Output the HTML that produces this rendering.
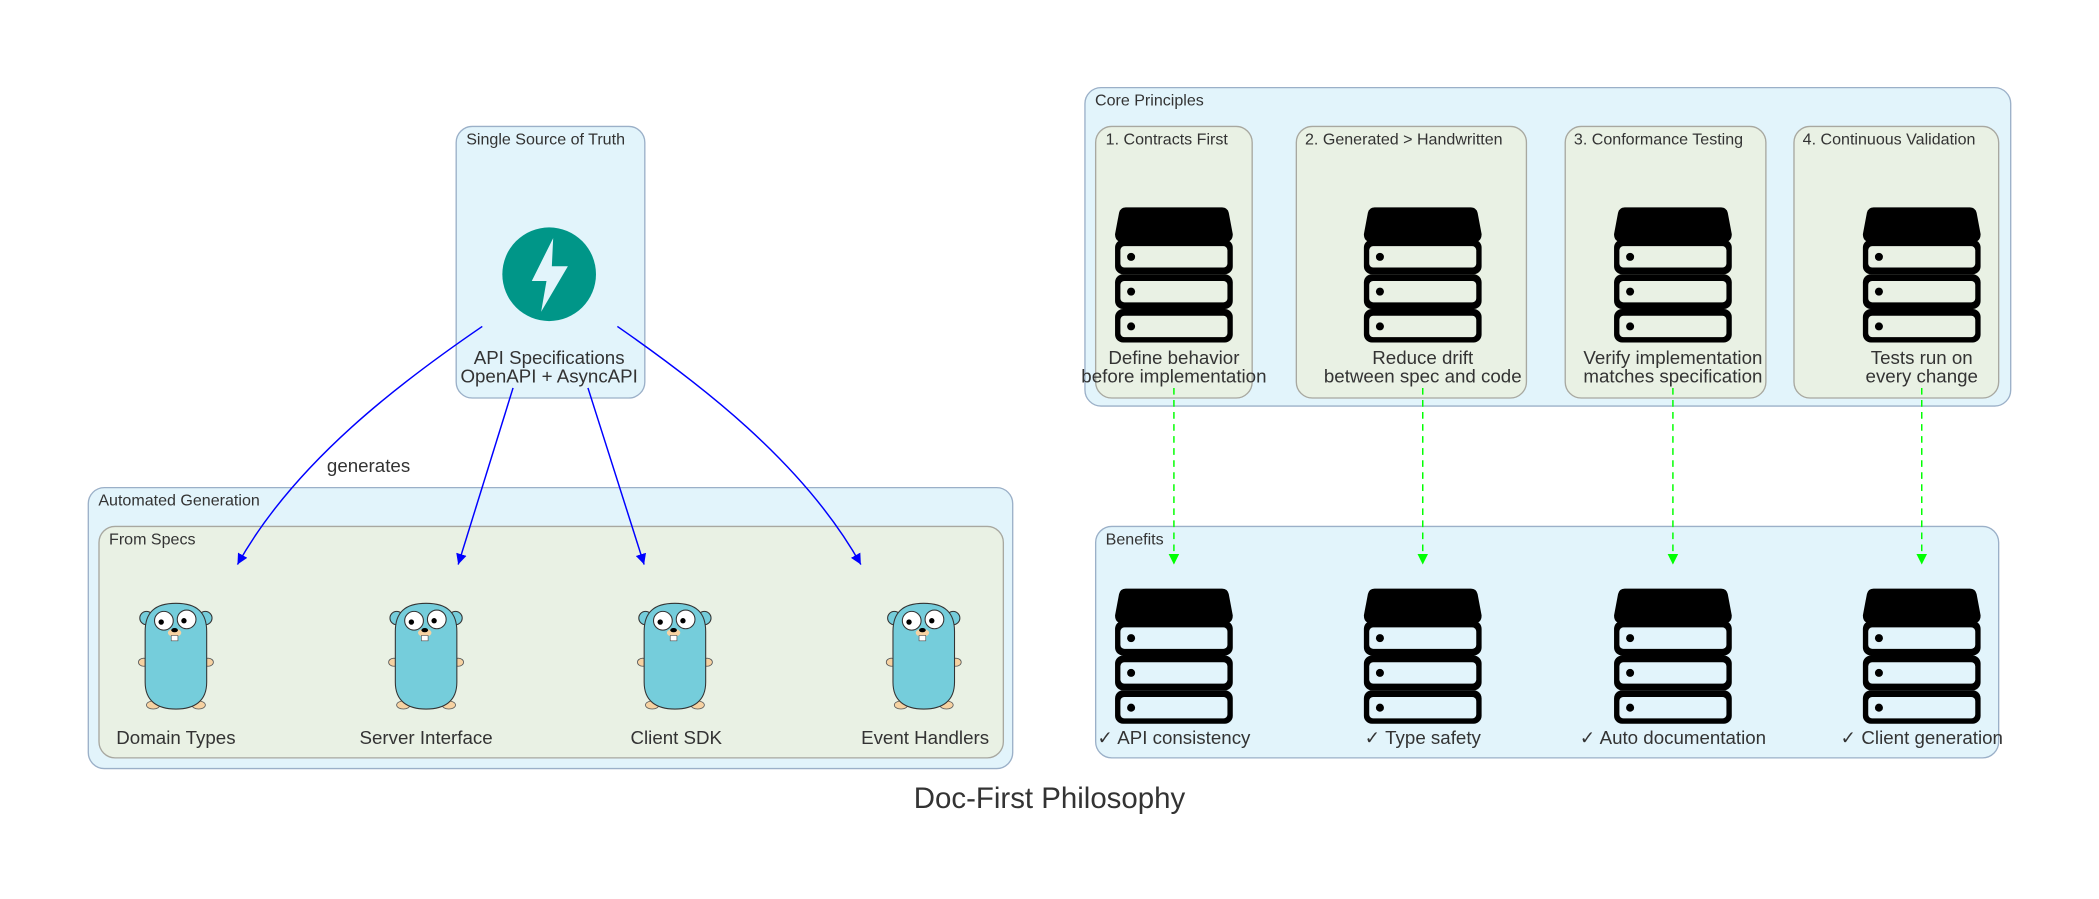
<!DOCTYPE html>
<html><head><meta charset="utf-8"><style>
html,body{margin:0;padding:0;background:#fff}
svg{display:block}
text{font-family:"Liberation Sans",sans-serif;fill:#333}
</style></head><body>
<svg width="2099" height="899" viewBox="0 0 1568 672" xmlns="http://www.w3.org/2000/svg">
<defs>
<symbol id="srv" viewBox="0 0 88 100" overflow="visible">
<path d="M8 0 H80 Q84 0 85 4 L88 20 Q88 26 82 26 H6 Q0 26 0 20 L3 4 Q4 0 8 0Z" fill="#000"/>
<rect x="0" y="24" width="88" height="26" rx="6" fill="#000"/>
<rect x="0" y="50" width="88" height="26" rx="6" fill="#000"/>
<rect x="0" y="76" width="88" height="25" rx="6" fill="#000"/>
<rect x="4" y="29" width="80" height="16" rx="3" style="fill:var(--bg)"/>
<rect x="4" y="55" width="80" height="16" rx="3" style="fill:var(--bg)"/>
<rect x="4" y="81" width="80" height="16" rx="3" style="fill:var(--bg)"/>
<circle cx="12" cy="37" r="3" fill="#000"/><circle cx="12" cy="63" r="3" fill="#000"/><circle cx="12" cy="89" r="3" fill="#000"/>
</symbol>
<symbol id="gopher" viewBox="0 0 60 82" overflow="visible">
<ellipse cx="6" cy="45" rx="4" ry="3" fill="#f6d2a2" stroke="#555" stroke-width="0.6"/>
<ellipse cx="54" cy="45" rx="4" ry="3" fill="#f6d2a2" stroke="#555" stroke-width="0.6"/>
<ellipse cx="13" cy="77" rx="5" ry="3" fill="#f6d2a2" stroke="#555" stroke-width="0.6"/>
<ellipse cx="47" cy="77" rx="5" ry="3" fill="#f6d2a2" stroke="#555" stroke-width="0.6"/>
<circle cx="8" cy="12" r="5" fill="#75cddb" stroke="#333" stroke-width="0.8"/>
<circle cx="52" cy="12" r="5" fill="#75cddb" stroke="#333" stroke-width="0.8"/>
<path d="M30 1 C46 1 53 8 53 22 L53 60 C53 74 44 80 30 80 C16 80 7 74 7 60 L7 22 C7 8 14 1 30 1Z" fill="#75cddb" stroke="#333" stroke-width="0.8"/>
<circle cx="21" cy="14" r="7" fill="#fff" stroke="#333" stroke-width="0.8"/>
<circle cx="38" cy="13" r="7" fill="#fff" stroke="#333" stroke-width="0.8"/>
<circle cx="19" cy="15" r="2" fill="#000"/><circle cx="36" cy="14" r="2" fill="#000"/>
<ellipse cx="29" cy="23" rx="5" ry="3" fill="#f6d2a2"/>
<ellipse cx="29" cy="21" rx="2.5" ry="1.6" fill="#000"/>
<rect x="26.5" y="25" width="5" height="4" fill="#fff" stroke="#555" stroke-width="0.5"/>
</symbol>
<marker id="ab" viewBox="0 0 10 10" refX="10" refY="5" markerWidth="8" markerHeight="8" orient="auto" markerUnits="userSpaceOnUse"><path d="M0 0 L10 5 L0 10Z" fill="#00f"/></marker>
<marker id="ag" viewBox="0 0 10 10" refX="10" refY="5" markerWidth="8" markerHeight="8" orient="auto" markerUnits="userSpaceOnUse"><path d="M0 0 L10 5 L0 10Z" fill="#0f0"/></marker>
</defs>

<!-- Single source -->
<rect x="340.5" y="94.5" width="141" height="203" rx="12" fill="#e2f4fb" stroke="#9bb0c8"/>
<text x="348" y="108" font-size="12">Single Source of Truth</text>
<circle cx="410" cy="205" r="35" fill="#009688"/>
<path d="M413 178 L397 210 L408 210 L404 233 L424 199 L412 199 Z" fill="#e2f4fb"/>
<text x="410" y="272" font-size="14" text-anchor="middle">API Specifications</text>
<text x="410" y="286" font-size="14" text-anchor="middle">OpenAPI + AsyncAPI</text>

<!-- Automated generation -->
<rect x="65.5" y="364.5" width="691" height="210" rx="12" fill="#e2f4fb" stroke="#9bb0c8"/>
<text x="73" y="378" font-size="12">Automated Generation</text>
<rect x="73.5" y="393.5" width="676" height="173" rx="12" fill="#e9f1e4" stroke="#a8a8a0"/>
<text x="81" y="407" font-size="12">From Specs</text>
<use href="#gopher" x="101" y="450" width="60" height="82"/>
<use href="#gopher" x="288" y="450" width="60" height="82"/>
<use href="#gopher" x="474" y="450" width="60" height="82"/>
<use href="#gopher" x="660" y="450" width="60" height="82"/>
<text x="131" y="556" font-size="14" text-anchor="middle">Domain Types</text>
<text x="318" y="556" font-size="14" text-anchor="middle">Server Interface</text>
<text x="505" y="556" font-size="14" text-anchor="middle">Client SDK</text>
<text x="691" y="556" font-size="14" text-anchor="middle">Event Handlers</text>

<!-- blue arrows -->
<g fill="none" stroke="#00f" stroke-width="1.1">
<path d="M360 244 C300 285 220 345 177 422" marker-end="url(#ab)"/>
<path d="M383 290 L342 422" marker-end="url(#ab)"/>
<path d="M439 290 L481 422" marker-end="url(#ab)"/>
<path d="M461 244 C520 285 600 345 643 422" marker-end="url(#ab)"/>
</g>
<text x="275" y="353" font-size="14" text-anchor="middle">generates</text>

<!-- Core principles -->
<rect x="810.5" y="65.5" width="692" height="238" rx="12" fill="#e2f4fb" stroke="#9bb0c8"/>
<text x="818" y="79" font-size="12">Core Principles</text>
<g fill="#e9f1e4" stroke="#a8a8a0">
<rect x="818.5" y="94.5" width="117" height="203" rx="12"/>
<rect x="968.5" y="94.5" width="172" height="203" rx="12"/>
<rect x="1169.5" y="94.5" width="150" height="203" rx="12"/>
<rect x="1340.5" y="94.5" width="153" height="203" rx="12"/>
</g>
<text x="826" y="108" font-size="12">1. Contracts First</text>
<text x="975" y="108" font-size="12">2. Generated &gt; Handwritten</text>
<text x="1176" y="108" font-size="12">3. Conformance Testing</text>
<text x="1347" y="108" font-size="12">4. Continuous Validation</text>
<g style="--bg:#e9f1e4">
<use href="#srv" x="833" y="155" width="88" height="100"/>
<use href="#srv" x="1019" y="155" width="88" height="100"/>
<use href="#srv" x="1206" y="155" width="88" height="100"/>
<use href="#srv" x="1392" y="155" width="88" height="100"/>
</g>
<g font-size="14" text-anchor="middle">
<text x="877" y="272">Define behavior</text><text x="877" y="286">before implementation</text>
<text x="1063" y="272">Reduce drift</text><text x="1063" y="286">between spec and code</text>
<text x="1250" y="272">Verify implementation</text><text x="1250" y="286">matches specification</text>
<text x="1436" y="272">Tests run on</text><text x="1436" y="286">every change</text>
</g>

<!-- Benefits -->
<rect x="818.5" y="393.5" width="675" height="173" rx="12" fill="#e2f4fb" stroke="#9bb0c8"/>
<text x="826" y="407" font-size="12">Benefits</text>
<g style="--bg:#e2f4fb">
<use href="#srv" x="833" y="440" width="88" height="100"/>
<use href="#srv" x="1019" y="440" width="88" height="100"/>
<use href="#srv" x="1206" y="440" width="88" height="100"/>
<use href="#srv" x="1392" y="440" width="88" height="100"/>
</g>
<g font-size="14" text-anchor="middle">
<text x="877" y="556">✓ API consistency</text>
<text x="1063" y="556">✓ Type safety</text>
<text x="1250" y="556">✓ Auto documentation</text>
<text x="1436" y="556">✓ Client generation</text>
</g>

<!-- green dashed -->
<g stroke="#0f0" stroke-width="1.1" stroke-dasharray="5,4" fill="none">
<path d="M877 290 V422" marker-end="url(#ag)"/>
<path d="M1063 290 V422" marker-end="url(#ag)"/>
<path d="M1250 290 V422" marker-end="url(#ag)"/>
<path d="M1436 290 V422" marker-end="url(#ag)"/>
</g>

<text x="784" y="604" font-size="22" text-anchor="middle">Doc-First Philosophy</text>
</svg>
</body></html>
